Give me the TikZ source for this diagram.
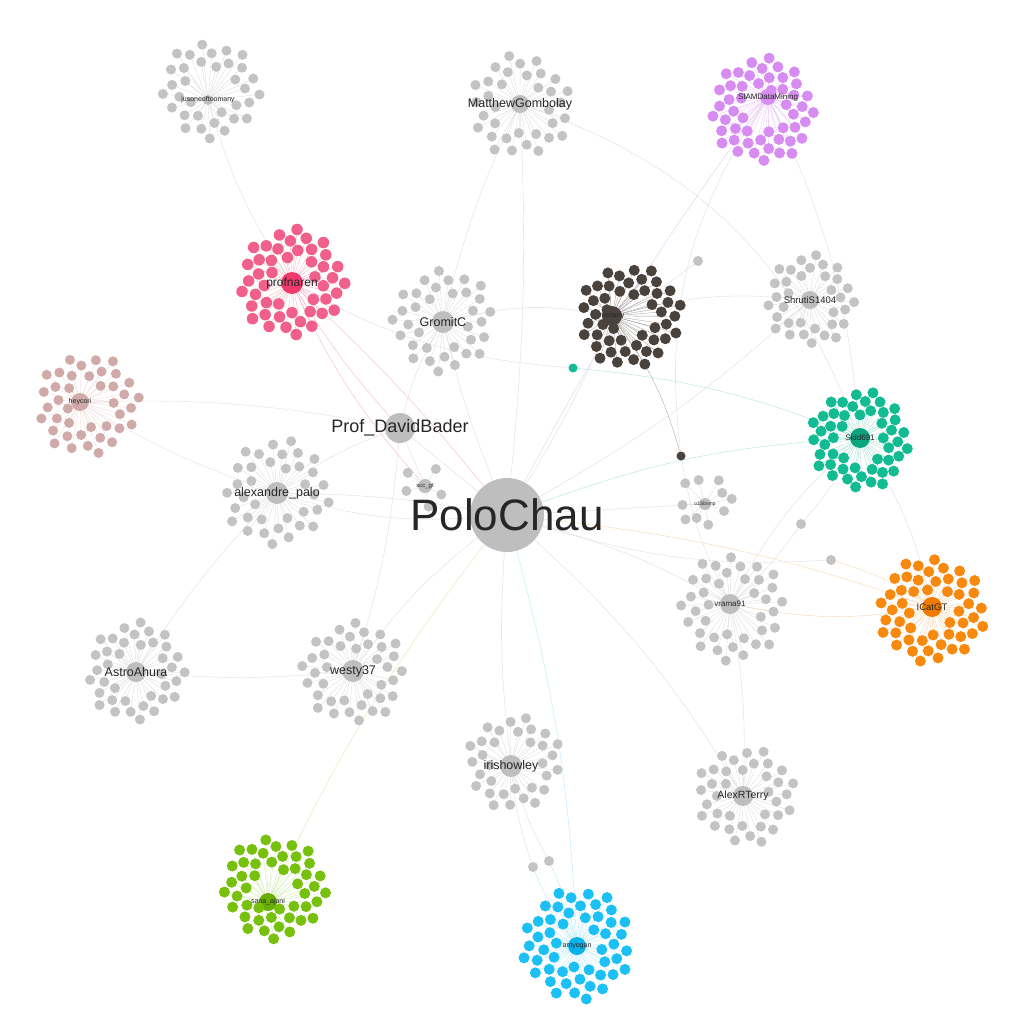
\documentclass[tikz,border=0pt]{standalone}
\usepackage{fontspec}
\setmainfont{Liberation Sans}
\pgfdeclarelayer{bg}
\pgfdeclarelayer{edges}
\pgfsetlayers{bg,edges,main}
\definecolor{cgray}{HTML}{C3C3C3}
\definecolor{hgray}{HTML}{BEBEBE}
\definecolor{egray}{HTML}{DCDCDC}
\definecolor{cpink}{HTML}{F0608A}
\definecolor{hpink}{HTML}{F03A6E}
\definecolor{epink}{HTML}{F6B3C6}
\definecolor{cpurp}{HTML}{D68CF0}
\definecolor{epurp}{HTML}{EBC6F7}
\definecolor{cdark}{HTML}{4A433D}
\definecolor{edark}{HTML}{A8A4A0}
\definecolor{cbrown}{HTML}{CFAAA8}
\definecolor{ebrown}{HTML}{EDDCDB}
\definecolor{cteal}{HTML}{12BB92}
\definecolor{hteal}{HTML}{0AA47F}
\definecolor{eteal}{HTML}{A3E3D3}
\definecolor{corange}{HTML}{F8890F}
\definecolor{horange}{HTML}{F07A00}
\definecolor{eorange}{HTML}{FAD2A8}
\definecolor{cgreen}{HTML}{78C00E}
\definecolor{hgreen}{HTML}{68AE05}
\definecolor{egreen}{HTML}{D2EBAE}
\definecolor{cblue}{HTML}{1CC0F5}
\definecolor{hblue}{HTML}{0AB2EA}
\definecolor{eblue}{HTML}{B0E8FB}
\tikzset{
  leaf/.style={circle,draw=none,inner sep=0pt,minimum size=10pt,fill=cgray},
  hubnode/.style={circle,draw=none,inner sep=0pt,minimum size=20pt,fill=hgray},
  leafedge/.style={line width=0.35pt,draw=egray},
  link/.style={line width=0.35pt,draw=egray},
  lab/.style={inner sep=0pt,text=black!85}
}
\newcommand\fs[1]{\fontsize{#1}{#1}\selectfont}
% #1 name, #2 x, #3 y, #4 N, #5 rmin, #6 rmax, #7 leaf opts, #8 edge opts, #9 phase
\newcommand\mkcluster[9]{%
  \pgfmathsetmacro\clQ{(#5/#6)*(#5/#6)}%
  \begin{pgfonlayer}{edges}
  \foreach \i in {1,...,#4}{%
    \pgfmathsetmacro\clF{\clQ+(1-\clQ)*(\i-0.5)/#4}%
    \pgfmathsetmacro\clR{#6*sqrt(\clF)}%
    \pgfmathsetmacro\clA{mod(#9+137.508*\i,360)}%
    \pgfmathsetmacro\clX{#2+\clR*cos(\clA)}%
    \pgfmathsetmacro\clY{#3+\clR*sin(\clA)}%
    \coordinate (#1-c\i) at (\clX,\clY);
    \draw[leafedge,#8] (#1) -- (#1-c\i);
  }
  \end{pgfonlayer}
  \foreach \i in {1,...,#4}{\node[leaf,#7] (#1-\i) at (#1-c\i) {};}
}
\begin{document}
\begin{tikzpicture}[x=1pt,y=-1pt]
\begin{pgfonlayer}{bg}
\fill[white] (0,0) rectangle (1024,1024);
\end{pgfonlayer}
\useasboundingbox (0,0) rectangle (1024,1024);

% hubs
\node[hubnode,minimum size=74pt] (polo) at (507,515) {};
\node[hubnode,minimum size=30pt] (bader) at (400,428) {};
\node[hubnode,minimum size=10pt] (jus) at (208,100) {};
\node[hubnode,minimum size=18pt] (matt) at (520,104) {};
\node[hubnode,minimum size=16pt,fill=cpurp] (siam) at (768,97) {};
\node[hubnode,minimum size=22pt,fill=hpink] (naren) at (292,283) {};
\node[hubnode,minimum size=22pt] (gromit) at (443,322) {};
\node[hubnode,minimum size=20pt,fill=cdark] (mcd) at (612,316) {};
\node[hubnode,minimum size=18pt] (shruti) at (810,300) {};
\node[hubnode,minimum size=18pt,fill=cbrown] (hey) at (80,402) {};
\node[hubnode,minimum size=20pt,fill=hteal] (sidd) at (860,438) {};
\node[hubnode,minimum size=22pt] (alex) at (277,493) {};
\node[hubnode,minimum size=14pt] (scc) at (425,486) {};
\node[hubnode,minimum size=12pt] (osb) at (705,504) {};
\node[hubnode,minimum size=20pt] (vrama) at (730,604) {};
\node[hubnode,minimum size=20pt,fill=horange] (icat) at (932,607) {};
\node[hubnode,minimum size=20pt] (astro) at (136,672) {};
\node[hubnode,minimum size=22pt] (westy) at (353,671) {};
\node[hubnode,minimum size=22pt] (iris) at (511,766) {};
\node[hubnode,minimum size=20pt] (alexr) at (743,796) {};
\node[hubnode,minimum size=18pt,fill=hgreen] (sana) at (268,902) {};
\node[hubnode,minimum size=18pt,fill=hblue] (amy) at (577,946) {};

% extra single nodes
\node[leaf] (x1) at (698,261) {};
\node[leaf,fill=cteal,minimum size=9pt] (x2) at (573,368) {};
\node[leaf,fill=cdark,minimum size=9pt] (x3) at (681,456) {};
\node[leaf] (x4) at (801,524) {};
\node[leaf] (x5) at (831,560) {};
\node[leaf] (x6) at (549,861) {};
\node[leaf] (x7) at (533,867) {};

% inter-cluster links
\begin{pgfonlayer}{edges}
\draw[link] (jus) to[bend right=8] (naren);
\draw[link] (matt) to[bend right=6] (gromit);
\draw[link] (matt) to[bend left=4] (polo);
\draw[link] (matt) to[bend left=25] (sidd);
\draw[link,draw=epurp] (siam) to[bend right=4] (polo);
\draw[link] (siam) to[bend right=20] (x3);
\draw[link] (siam) to[bend left=10] (sidd);
\draw[link] (x1) to[bend left=5] (mcd);
\draw[link] (naren) to[bend right=12] (x2);
\draw[link,draw=epink] (naren) to[bend left=4] (polo);
\draw[link,draw=epink] (naren) to[bend right=5] (bader);
\draw[link,draw=epink] (naren) to[bend right=8] (scc);
\draw[link,draw=eteal] (x2) to[bend left=8] (sidd);
\draw[link] (gromit) to[bend right=4] (polo);
\draw[link] (gromit) to[bend right=8] (bader);
\draw[link] (gromit) to[bend left=12] (mcd);
\draw[link] (mcd) to[bend left=4] (polo);
\draw[link,draw=edark] (mcd) to[bend left=10] (x3);
\draw[link] (x3) to[bend right=8] (vrama);
\draw[link] (shruti) to[bend left=6] (polo);
\draw[link] (shruti) to[bend right=10] (mcd);
\draw[link,draw=ebrown] (hey) to[bend right=6] (alex);
\draw[link,draw=ebrown] (hey) to[bend left=6] (bader);
\draw[link] (bader) -- (polo);
\draw[link] (bader) to[bend right=8] (alex);
\draw[link] (bader) to[bend left=6] (westy);
\draw[link] (bader) -- (scc);
\draw[link] (alex) to[bend left=4] (polo);
\draw[link] (alex) to[bend right=10] (polo);
\draw[link] (alex) to[bend right=5] (astro);
\draw[link] (astro) to[bend right=5] (westy);
\draw[link] (westy) to[bend left=8] (polo);
\draw[link] (polo) to[bend right=5] (iris);
\draw[link,draw=eblue] (polo) to[bend left=6] (amy);
\draw[link] (polo) to[bend left=8] (alexr);
\draw[link,draw=egreen] (polo) to[bend right=6] (sana);
\draw[link] (polo) to[bend left=6] (vrama);
\draw[link,draw=eorange] (polo) to[bend left=6] (icat);
\draw[link,draw=eteal] (polo) to[bend left=8] (sidd);
\draw[link] (polo) -- (osb);
\draw[link] (polo) to[bend right=10] (x5);
\draw[link,draw=eorange] (vrama) to[bend right=10] (icat);
\draw[link] (sidd) to[bend right=10] (vrama);
\draw[link] (sidd) to[bend left=10] (icat);
\draw[link] (sidd) to[bend left=6] (x4);
\draw[link] (x4) to[bend left=6] (vrama);
\draw[link,draw=eorange] (x5) to[bend left=8] (icat);
\draw[link] (iris) to[bend right=6] (x6);
\draw[link] (iris) to[bend right=6] (x7);
\draw[link,draw=eblue] (x6) to[bend left=6] (amy);
\draw[link,draw=eblue] (x7) to[bend right=6] (amy);
\draw[link] (alexr) to[bend right=6] (vrama);
\end{pgfonlayer}

% clusters
\mkcluster{jus}{210}{90}{34}{22}{50}{}{}{10}
\mkcluster{matt}{520}{106}{34}{24}{52}{}{}{40}
\mkcluster{siam}{762}{110}{50}{20}{53}{fill=cpurp,minimum size=11pt}{draw=epurp}{20}
\mkcluster{naren}{292}{283}{46}{22}{54}{fill=cpink,minimum size=11.5pt}{draw=epink}{70}
\mkcluster{gromit}{443}{320}{34}{24}{52}{}{}{100}
\mkcluster{mcd}{630}{316}{48}{20}{52}{fill=cdark,minimum size=11pt}{draw=edark}{5}
\mkcluster{shruti}{810}{300}{34}{22}{46}{}{}{60}
\mkcluster{hey}{88}{404}{40}{20}{52}{fill=cbrown}{draw=ebrown}{30}
\mkcluster{sidd}{860}{440}{48}{22}{50}{fill=cteal,minimum size=11pt}{draw=eteal}{80}
\mkcluster{alex}{277}{493}{36}{24}{54}{}{}{15}
\mkcluster{scc}{425}{486}{5}{18}{22}{}{}{250}
\mkcluster{osb}{705}{500}{10}{18}{28}{}{}{200}
\mkcluster{vrama}{733}{608}{38}{24}{54}{}{}{50}
\mkcluster{icat}{932}{610}{50}{20}{54}{fill=corange,minimum size=11pt}{draw=eorange}{120}
\mkcluster{astro}{136}{672}{38}{24}{50}{}{}{90}
\mkcluster{westy}{353}{673}{38}{24}{52}{}{}{140}
\mkcluster{iris}{514}{762}{32}{24}{48}{}{}{35}
\mkcluster{alexr}{745}{796}{36}{22}{50}{}{}{75}
\mkcluster{sana}{274}{888}{46}{20}{52}{fill=cgreen,minimum size=11pt}{draw=egreen}{160}
\mkcluster{amy}{577}{944}{50}{20}{56}{fill=cblue,minimum size=11pt}{draw=eblue}{45}

% labels
\node[lab,font=\fs{44}] (polo-l) at (polo) {PoloChau};
\node[lab,font=\fs{18}] (bader-l) at (bader) {Prof\_DavidBader};
\node[lab,font=\fs{7}] (jus-l) at (jus) {jusoneoftoomany};
\node[lab,font=\fs{12.5}] (matt-l) at (matt) {MatthewGombolay};
\node[lab,font=\fs{8}] (siam-l) at (siam) {SIAMDataMining};
\node[lab,font=\fs{12}] (naren-l) at (naren) {profnaren};
\node[lab,font=\fs{12.5}] (gromit-l) at (gromit) {GromitC};
\node[lab,font=\fs{7}] (mcd-l) at (mcd) {mcdany};
\node[lab,font=\fs{9.5}] (shruti-l) at (shruti) {ShrutiS1404};
\node[lab,font=\fs{7}] (hey-l) at (hey) {heycori};
\node[lab,font=\fs{8}] (sidd-l) at (sidd) {Sidd691};
\node[lab,font=\fs{12.5}] (alex-l) at (alex) {alexandre\_palo};
\node[lab,font=\fs{6}] (scc-l) at (scc) {scc\_gt};
\node[lab,font=\fs{5}] (osb-l) at (osb) {o1Sbsmp};
\node[lab,font=\fs{8}] (vrama-l) at (vrama) {vrama91};
\node[lab,font=\fs{9.5}] (icat-l) at (icat) {ICatGT};
\node[lab,font=\fs{12.5}] (astro-l) at (astro) {AstroAhura};
\node[lab,font=\fs{12.5}] (westy-l) at (westy) {westy37};
\node[lab,font=\fs{12.5}] (iris-l) at (iris) {irishowley};
\node[lab,font=\fs{10.5}] (alexr-l) at (alexr) {AlexRTerry};
\node[lab,font=\fs{7}] (sana-l) at (sana) {sana\_ajani};
\node[lab,font=\fs{7}] (amy-l) at (amy) {amyogan};
\end{tikzpicture}
\end{document}
